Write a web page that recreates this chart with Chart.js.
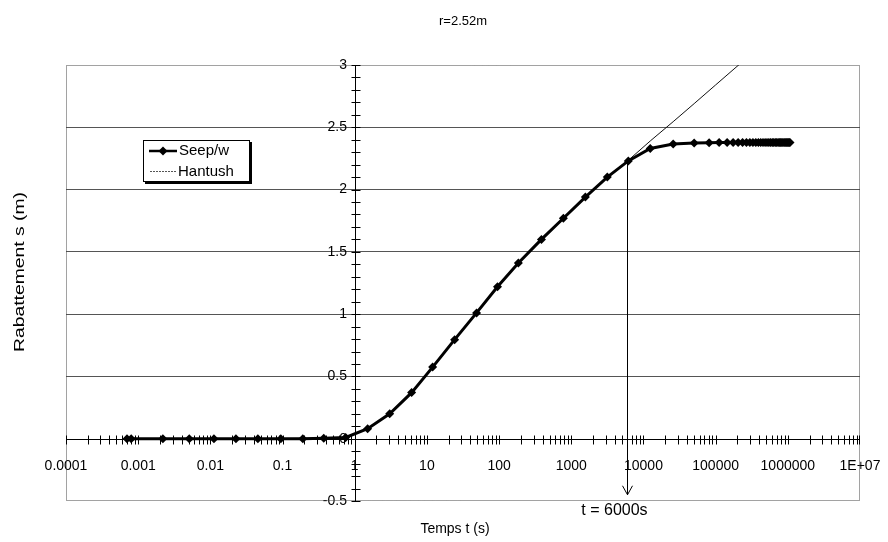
<!DOCTYPE html>
<html>
<head>
<meta charset="utf-8">
<script src="https://cdn.jsdelivr.net/npm/chart.js@4.4.1/dist/chart.umd.min.js"></script>
<style>
  html, body { margin: 0; padding: 0; background: #fff; }
</style>
</head>
<body>
<canvas id="rabChart" width="888" height="542"></canvas>
<script>
// Seep/w drawdown at r = 2.52 m
const seepTime = [0.0007, 0.0008, 0.0022, 0.0051, 0.0112, 0.0226, 0.0455, 0.0946, 0.191, 0.372,
  0.75, 1.51, 3.05, 6.14, 12.0, 24.2, 48.7, 95, 185, 386, 778, 1567, 3157, 6166, 12420, 25800,
  50400, 81300, 111700, 144200, 174600, 205000, 236000, 267000, 298000, 329000, 360000, 391000,
  422000, 453000, 484000, 515000, 546000, 577000, 608000, 639000, 670000, 701000, 732000, 763000,
  794000, 825000, 856000, 887000, 918000, 949000, 980000, 1011000, 1042000, 1073000];
const seepDraw = [0, 0, 0, 0, 0, 0, 0, 0, 0, 0.003,
  0.01, 0.08, 0.20, 0.37, 0.575, 0.795, 1.01, 1.22, 1.41, 1.60, 1.77, 1.94, 2.10, 2.23, 2.33, 2.365,
  2.373, 2.376, 2.377, 2.377, 2.378, 2.378, 2.378, 2.378, 2.378, 2.378, 2.378, 2.378,
  2.378, 2.378, 2.378, 2.378, 2.378, 2.378, 2.378, 2.378, 2.378, 2.378, 2.378, 2.378,
  2.378, 2.378, 2.378, 2.378, 2.378, 2.378, 2.378, 2.378, 2.378, 2.378];

// Hantush analytical solution
const hantushTime = [0.0007, 0.0051, 0.0455, 0.372, 0.75, 1.51, 3.05, 6.14, 12.0, 24.2, 48.7, 95,
  185, 386, 778, 1567, 3157, 6166, 12420, 25800, 50400, 100000, 250000];
const hantushDraw = [0, 0, 0, 0.004, 0.012, 0.08, 0.20, 0.37, 0.575, 0.795, 1.01, 1.22,
  1.41, 1.60, 1.77, 1.94, 2.10, 2.235, 2.39, 2.545, 2.69, 2.84, 3.04];

const xTicks = [0.0001, 0.001, 0.01, 0.1, 1, 10, 100, 1000, 10000, 100000, 1000000, 10000000];
const xTickLabels = ['0.0001', '0.001', '0.01', '0.1', '1', '10', '100', '1000', '10000',
  '100000', '1000000', '1E+07'];
const markTime = 6000;   // arrow "t = 6000s"
const markFrom = 2.23;
const markTo = -0.45;

const FONT = 'Liberation Sans, Arial, sans-serif';

// axes crossing at t = 1 / s = 0, border and tick marks
const excelFrame = {
  id: 'excelFrame',
  beforeDatasetsDraw(chart) {
    const { ctx, chartArea: a, scales: { x, y } } = chart;
    const x0 = Math.round(x.getPixelForValue(1)) + 0.5;
    const y0 = Math.round(y.getPixelForValue(0)) + 0.5;
    ctx.save();
    ctx.lineWidth = 1;
    ctx.strokeStyle = '#444';
    ctx.setLineDash([1, 1]);
    ctx.strokeRect(a.left + 0.5, a.top + 0.5, a.width - 1, a.height - 1);
    ctx.setLineDash([]);

    ctx.strokeStyle = '#000';
    ctx.beginPath();
    ctx.moveTo(a.left, y0); ctx.lineTo(a.right, y0);
    ctx.moveTo(x0, a.top); ctx.lineTo(x0, a.bottom);
    for (let e = -4; e < 7; e++) {
      for (let m = 1; m < 10; m++) {
        const px = Math.round(x.getPixelForValue(m * Math.pow(10, e))) + 0.5;
        ctx.moveTo(px, y0 - 4); ctx.lineTo(px, y0 + 5);
      }
    }
    const px = Math.round(x.getPixelForValue(1e7)) - 0.5;
    ctx.moveTo(px, y0 - 4); ctx.lineTo(px, y0 + 5);
    for (let i = -5; i <= 30; i++) {
      const py = Math.round(y.getPixelForValue(i / 10)) + 0.5;
      ctx.moveTo(x0 - 4, py); ctx.lineTo(x0 + 5, py);
    }
    ctx.stroke();
    ctx.restore();
  },
  afterDatasetsDraw(chart) {
    const { ctx, scales: { x, y } } = chart;
    ctx.save();
    // arrow at t = 6000 s
    const ax = Math.round(x.getPixelForValue(markTime)) + 0.5;
    const ay1 = y.getPixelForValue(markFrom);
    const ay2 = y.getPixelForValue(markTo);
    ctx.strokeStyle = '#000';
    ctx.lineWidth = 1;
    ctx.beginPath();
    ctx.moveTo(ax, ay1); ctx.lineTo(ax, ay2);
    ctx.moveTo(ax - 5, ay2 - 9); ctx.lineTo(ax, ay2); ctx.lineTo(ax + 5, ay2 - 9);
    ctx.stroke();

    // legend box with shadow
    const lx = 143, ly = 140, lw = 107, lh = 42;
    ctx.fillStyle = '#000';
    ctx.fillRect(lx + 2, ly + 2, lw, lh);
    ctx.fillStyle = '#fff';
    ctx.fillRect(lx, ly, lw, lh);
    ctx.strokeRect(lx + 0.5, ly + 0.5, lw - 1, lh - 1);

    ctx.fillStyle = '#000';
    ctx.lineWidth = 2.5;
    ctx.beginPath();
    ctx.moveTo(149, 151); ctx.lineTo(177, 151);
    ctx.stroke();
    ctx.beginPath();
    ctx.moveTo(163, 146.5); ctx.lineTo(167.5, 151); ctx.lineTo(163, 155.5); ctx.lineTo(158.5, 151);
    ctx.closePath();
    ctx.fill();
    ctx.lineWidth = 1;
    ctx.strokeStyle = '#555';
    ctx.setLineDash([2, 1]);
    ctx.beginPath();
    ctx.moveTo(150, 171.5); ctx.lineTo(177, 171.5);
    ctx.stroke();
    ctx.setLineDash([]);

    ctx.font = '15px ' + FONT;
    ctx.textAlign = 'left';
    ctx.textBaseline = 'middle';
    ctx.fillText('Seep/w', 179, 151);
    ctx.fillText('Hantush', 178, 172);
    ctx.restore();
  },
  afterDraw(chart) {
    const { ctx, scales: { x } } = chart;
    ctx.save();
    ctx.fillStyle = '#000';
    ctx.textBaseline = 'middle';
    ctx.textAlign = 'center';
    ctx.font = '16px ' + FONT;
    ctx.fillText('t = 6000s', x.getPixelForValue(markTime) - 13, 511);
    ctx.font = '14px ' + FONT;
    ctx.fillText('Temps t (s)', 455, 529);
    ctx.translate(20, 272);
    ctx.rotate(-Math.PI / 2);
    ctx.scale(1.38, 1);
    ctx.fillText('Rabattement s (m)', 0, 0);
    ctx.restore();
  }
};

const canvas = document.getElementById('rabChart');
if (canvas) {
  new Chart(canvas.getContext('2d'), {
    type: 'scatter',
    data: {
      datasets: [{
        label: 'Seep/w',
        data: seepTime.map((t, i) => ({ x: t, y: seepDraw[i] })),
        showLine: true,
        borderColor: '#000',
        backgroundColor: '#000',
        borderWidth: 3,
        pointStyle: 'rectRot',
        pointRadius: 4.5,
        pointBorderWidth: 0,
        tension: 0
      },
      {
        label: 'Hantush',
        data: hantushTime.map((t, i) => ({ x: t, y: hantushDraw[i] })),
        showLine: true,
        borderColor: '#111',
        borderWidth: 1,
        pointRadius: 0,
        tension: 0
      }]
    },
    options: {
      responsive: false,
      animation: false,
      layout: { padding: { left: 66, right: 28, top: 0, bottom: 41 } },
      plugins: {
        legend: { display: false },
        tooltip: { enabled: false },
        title: {
          display: true,
          text: 'r=2.52m',
          color: '#000',
          font: { family: FONT, size: 13, weight: 'normal' },
          padding: { top: 14, bottom: 35.4 }
        }
      },
      scales: {
        x: {
          type: 'logarithmic',
          min: 0.0001,
          max: 10000000,
          position: { y: 0 },
          afterBuildTicks: scale => { scale.ticks = xTicks.map(v => ({ value: v })); },
          afterFit: scale => { scale.paddingLeft = 0; scale.paddingRight = 0; },
          ticks: {
            autoSkip: false,
            maxRotation: 0,
            padding: 19,
            color: '#000',
            font: { family: FONT, size: 14 },
            callback: (v, i) => xTickLabels[i]
          },
          grid: { display: false, drawTicks: false },
          border: { display: false }
        },
        y: {
          min: -0.5,
          max: 3,
          position: { x: 1 },
          z: 1,
          afterFit: scale => { scale.paddingTop = 0; scale.paddingBottom = 0; },
          ticks: {
            stepSize: 0.5,
            color: '#000',
            font: { family: FONT, size: 14 },
            callback: v => v + '  '
          },
          grid: {
            drawTicks: false,
            color: c => [-0.5, 0, 3].includes(c.tick && c.tick.value) ? 'rgba(0,0,0,0)' : '#555'
          },
          border: { display: false }
        }
      }
    },
    plugins: [excelFrame]
  });
} else {
  console.error('Chart canvas not found!');
}
</script>
</body>
</html>
